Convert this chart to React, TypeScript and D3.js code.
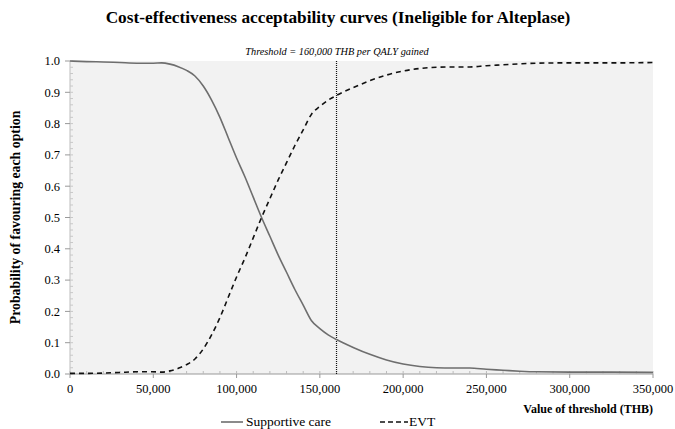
import React from 'react';
import { scaleLinear, line, curveMonotoneX, range, format } from 'd3';

const svgWidth = 675;
const svgHeight = 429;

const margin = { top: 61, right: 22, bottom: 55, left: 70 };
const innerWidth = svgWidth - margin.left - margin.right;
const innerHeight = svgHeight - margin.top - margin.bottom;

// thresholds (THB)
const thresholds = [
  0, 10000, 20000, 30000, 40000, 50000, 55000, 60000, 65000, 70000, 75000, 80000, 85000, 90000,
  95000, 100000, 105000, 110000, 115000, 120000, 125000, 130000, 135000, 140000, 145000, 150000,
  155000, 160000, 170000, 180000, 190000, 200000, 210000, 220000, 230000, 240000, 250000, 260000,
  270000, 280000, 300000, 325000, 350000,
];

const supportiveCare = [
  1.0, 0.998, 0.997, 0.995, 0.993, 0.993, 0.994, 0.99, 0.982, 0.97, 0.952, 0.92, 0.875, 0.82,
  0.755, 0.69, 0.63, 0.565, 0.5, 0.44, 0.38, 0.325, 0.27, 0.22, 0.17, 0.145,
  0.125, 0.11, 0.085, 0.063, 0.045, 0.032, 0.024, 0.02, 0.019, 0.019, 0.015, 0.012,
  0.009, 0.007, 0.006, 0.006, 0.005,
];

const evt = [
  0.002, 0.002, 0.003, 0.005, 0.007, 0.007, 0.006, 0.01, 0.018, 0.03, 0.048, 0.08, 0.125, 0.18,
  0.245, 0.31, 0.37, 0.435, 0.5, 0.56, 0.62, 0.675, 0.73, 0.78, 0.83, 0.855,
  0.875, 0.89, 0.915, 0.937, 0.955, 0.968, 0.976, 0.98, 0.981, 0.981, 0.985, 0.988,
  0.991, 0.993, 0.994, 0.994, 0.995,
];

const xTicks = [0, 50000, 100000, 150000, 200000, 250000, 300000, 350000];
const yTicks = [0, 0.1, 0.2, 0.3, 0.4, 0.5, 0.6, 0.7, 0.8, 0.9, 1.0];
const wtpThreshold = 160000;

const fontFamily = '"Liberation Serif", "Times New Roman", serif';

export default function App() {
  const xScale = scaleLinear().domain([0, 350000]).range([0, innerWidth]);
  const yScale = scaleLinear().domain([0, 1]).range([innerHeight, 0]);

  const curve = line<number>()
    .x((d, i) => xScale(thresholds[i]))
    .y((d) => yScale(d))
    .curve(curveMonotoneX);

  const commaFormat = format(',');
  const xMinor = range(0, 350001, 10000);
  const yMinor = range(0, 1.0001, 0.02);

  return (
    <svg
      width={svgWidth}
      height={svgHeight}
      style={{ position: 'absolute', left: 0, top: 0, fontFamily }}
    >
      <rect width={svgWidth} height={svgHeight} fill="#fff" />
      <text x={338} y={23} textAnchor="middle" fontSize={17.3} fontWeight="bold">
        Cost-effectiveness acceptability curves (Ineligible for Alteplase)
      </text>
      <text x={337} y={55} textAnchor="middle" fontSize={10.3} fontStyle="italic">
        Threshold = 160,000 THB per QALY gained
      </text>

      <g transform={`translate(${margin.left}, ${margin.top})`}>
        <rect width={innerWidth} height={innerHeight} fill="#f2f2f2" />

        {/* y axis */}
        <line x1={0} x2={0} y1={0} y2={innerHeight} stroke="#bdbdbd" />
        {yMinor.map((t) => (
          <line key={'ym' + t} x1={0} x2={3} y1={yScale(t)} y2={yScale(t)} stroke="#c8c8c8" />
        ))}
        {yTicks.map((t) => (
          <g key={'y' + t} transform={`translate(0, ${yScale(t)})`}>
            <line x1={-5} x2={0} stroke="#999" />
            <text x={-10} dy="0.35em" textAnchor="end" fontSize={12.5}>
              {t.toFixed(1)}
            </text>
          </g>
        ))}

        {/* x axis */}
        <line x1={0} x2={innerWidth} y1={innerHeight} y2={innerHeight} stroke="#999" />
        {xMinor.map((t) => (
          <line
            key={'xm' + t}
            x1={xScale(t)}
            x2={xScale(t)}
            y1={innerHeight}
            y2={innerHeight - 3}
            stroke="#bbb"
          />
        ))}
        {xTicks.map((t) => (
          <g key={'x' + t} transform={`translate(${xScale(t)}, ${innerHeight})`}>
            <line y1={0} y2={4} stroke="#999" />
            <text y={19} textAnchor="middle" fontSize={12.5}>
              {commaFormat(t)}
            </text>
          </g>
        ))}

        <line
          x1={xScale(wtpThreshold)}
          x2={xScale(wtpThreshold)}
          y1={0}
          y2={innerHeight}
          stroke="#111"
          strokeWidth={1.2}
          strokeDasharray="1,1"
        />

        <path d={curve(supportiveCare) || ''} fill="none" stroke="#6e6e6e" strokeWidth={1.6} />
        <path
          d={curve(evt) || ''}
          fill="none"
          stroke="#111"
          strokeWidth={1.6}
          strokeDasharray="5,4"
        />
      </g>

      <text
        transform={`translate(20, ${margin.top + innerHeight / 2}) rotate(-90)`}
        textAnchor="middle"
        fontSize={13.8}
        fontWeight="bold"
      >
        Probability of favouring each option
      </text>
      <text x={margin.left + innerWidth} y={413} textAnchor="end" fontSize={12} fontWeight="bold">
        Value of threshold (THB)
      </text>

      {/* legend */}
      <line x1={221} x2={243} y1={422} y2={422} stroke="#6e6e6e" strokeWidth={1.6} />
      <text x={246} y={426} fontSize={13.5}>
        Supportive care
      </text>
      <line
        x1={380}
        x2={408}
        y1={422}
        y2={422}
        stroke="#111"
        strokeWidth={1.6}
        strokeDasharray="5,3"
      />
      <text x={409} y={426} fontSize={13.5}>
        EVT
      </text>
    </svg>
  );
}
